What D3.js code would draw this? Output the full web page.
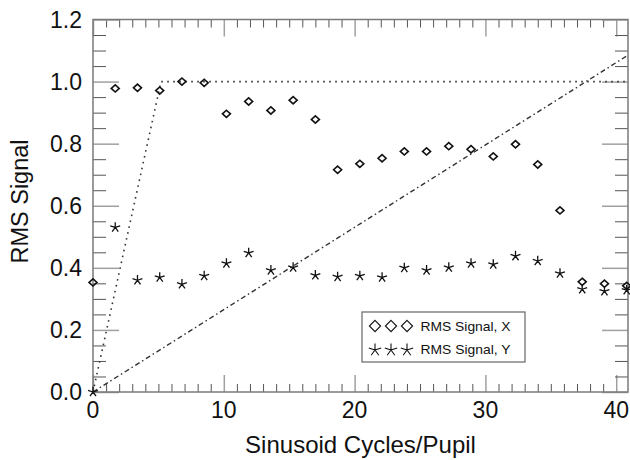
<!DOCTYPE html>
<html>
<head>
<meta charset="utf-8">
<script src="https://cdn.jsdelivr.net/npm/d3@7"></script>
<style>
  html, body { margin: 0; padding: 0; background: #fff; }
  svg { display: block; }
  text { font-family: "Liberation Sans", Arial, Helvetica, sans-serif; fill: #111; }
</style>
</head>
<body>
<svg id="chart" width="630" height="460"></svg>
<script>
// ---- data ----
const cycles = [0, 1.7, 3.4, 5.1, 6.8, 8.5, 10.2, 11.9, 13.6, 15.3, 17.0, 18.7, 20.4,
                22.1, 23.8, 25.5, 27.2, 28.9, 30.6, 32.3, 34.0, 35.7, 37.4, 39.1, 40.8];
const rmsX = [0.353, 0.978, 0.980, 0.971, 1.000, 0.996, 0.896, 0.936, 0.907, 0.940, 0.878,
              0.716, 0.735, 0.753, 0.775, 0.775, 0.792, 0.782, 0.759, 0.798, 0.733, 0.585,
              0.355, 0.349, 0.342];
const rmsY = [0.000, 0.530, 0.360, 0.369, 0.347, 0.374, 0.414, 0.448, 0.392, 0.401, 0.376,
              0.371, 0.374, 0.369, 0.400, 0.392, 0.401, 0.414, 0.411, 0.438, 0.422, 0.382,
              0.331, 0.325, 0.328];
// reference curves
const dottedX = [0, 5.2, 40.9];
const dottedY = [0, 1.0, 1.0];
const dashDotX = [0, 40.9];
const dashDotY = [0, 1.085];

const xTicks = [0, 10, 20, 30, 40];
const yTicks = [0.0, 0.2, 0.4, 0.6, 0.8, 1.0, 1.2];
const seriesNames = ["RMS Signal, X", "RMS Signal, Y"];
const xTitle = "Sinusoid Cycles/Pupil";
const yTitle = "RMS Signal";

// ---- layout ----
const L = 93, R = 628, T = 19.5, B = 392;
const svg = d3.select("#chart");
const x = d3.scaleLinear().domain([0, 40.9]).range([L, R]);
const y = d3.scaleLinear().domain([0, 1.2]).range([B, T]);

const frameColor = "#7a7a7a", minorColor = "#555", majorColor = "#a0a0a0";

// minor ticks
const xMinor = d3.range(0, 41, 1).filter(v => v % 10 !== 0);
const yMinor = d3.range(0, 24, 1).map(i => i * 0.05).filter((v, i) => i % 4 !== 0);

const g = svg.append("g");

function tickAxis(axisGen, transform, color, width) {
  const a = g.append("g").attr("transform", transform).call(axisGen);
  a.select(".domain").remove();
  a.selectAll("line").attr("stroke", color).attr("stroke-width", width);
  a.selectAll("text").remove();
  return a;
}
// bottom & top
tickAxis(d3.axisTop(x).tickValues(xMinor).tickSize(8), `translate(0,${B})`, minorColor, 1);
tickAxis(d3.axisTop(x).tickValues(xTicks).tickSize(17), `translate(0,${B})`, majorColor, 1.5);
tickAxis(d3.axisBottom(x).tickValues(xMinor).tickSize(8), `translate(0,${T})`, minorColor, 1);
tickAxis(d3.axisBottom(x).tickValues(xTicks).tickSize(17), `translate(0,${T})`, majorColor, 1.5);
// left & right
tickAxis(d3.axisRight(y).tickValues(yMinor).tickSize(13), `translate(${L},0)`, minorColor, 1);
tickAxis(d3.axisRight(y).tickValues(yTicks).tickSize(26), `translate(${L},0)`, majorColor, 1.5);
tickAxis(d3.axisLeft(y).tickValues(yMinor).tickSize(13), `translate(${R},0)`, minorColor, 1);
tickAxis(d3.axisLeft(y).tickValues(yTicks).tickSize(26), `translate(${R},0)`, majorColor, 1.5);

// frame
g.append("rect").attr("x", L).attr("y", T).attr("width", R - L).attr("height", B - T)
  .attr("fill", "none").attr("stroke", frameColor).attr("stroke-width", 1.5);

// tick labels
g.selectAll(".xl").data(xTicks).enter().append("text")
  .attr("x", d => x(d)).attr("y", 418).attr("text-anchor", "middle")
  .attr("font-size", 23).text(d => d3.format("d")(d));
g.selectAll(".yl").data(yTicks).enter().append("text")
  .attr("x", 82).attr("y", d => y(d) + 8.3).attr("text-anchor", "end")
  .attr("font-size", 23).text(d => d3.format(".1f")(d));

// axis titles
g.append("text").attr("x", (L + R) / 2).attr("y", 453).attr("text-anchor", "middle")
  .attr("font-size", 24).text(xTitle);
g.append("text").attr("transform", `translate(28,201.5) rotate(-90)`)
  .attr("text-anchor", "middle").attr("font-size", 23.5).text(yTitle);

// clip
svg.append("clipPath").attr("id", "clip").append("rect")
  .attr("x", L).attr("y", T).attr("width", R - L).attr("height", B - T);

const line = d3.line().x(d => x(d[0])).y(d => y(d[1]));
g.append("path").datum(d3.zip(dottedX, dottedY)).attr("d", line)
  .attr("clip-path", "url(#clip)")
  .attr("fill", "none").attr("stroke", "#333").attr("stroke-width", 1.6)
  .attr("stroke-dasharray", "1.6,4.4");
g.append("path").datum(d3.zip(dashDotX, dashDotY)).attr("d", line)
  .attr("clip-path", "url(#clip)")
  .attr("fill", "none").attr("stroke", "#333").attr("stroke-width", 1.4)
  .attr("stroke-dasharray", "5,3,1.5,3");

// markers
function diamondPath(cx, cy, w, h) {
  return `M${cx},${cy - h}L${cx + w},${cy}L${cx},${cy + h}L${cx - w},${cy}Z`;
}
function starPath(cx, cy, r) {
  const angs = [-90, -18, 54, 126, 198];
  return angs.map(a => {
    const t = a * Math.PI / 180;
    return `M${cx},${cy}L${cx + r * Math.cos(t)},${cy + r * Math.sin(t)}`;
  }).join("");
}

g.selectAll(".dx").data(d3.zip(cycles, rmsX)).enter().append("path")
  .attr("d", d => diamondPath(x(d[0]), y(d[1]), 4, 3.6))
  .attr("fill", "none").attr("stroke", "#111").attr("stroke-width", 1.6);
g.selectAll(".sy").data(d3.zip(cycles, rmsY)).enter().append("path")
  .attr("d", d => starPath(x(d[0]), y(d[1]), 5.2))
  .attr("fill", "none").attr("stroke", "#111").attr("stroke-width", 1.3);

// legend
const lg = g.append("g");
lg.append("rect").attr("x", 362).attr("y", 312).attr("width", 163).attr("height", 50)
  .attr("fill", "#fff").attr("stroke", "#666").attr("stroke-width", 1.2);
const symX = [375, 391, 407];
symX.forEach(sx => {
  lg.append("path").attr("d", diamondPath(sx, 326, 5.6, 5.6))
    .attr("fill", "none").attr("stroke", "#111").attr("stroke-width", 1.1);
  lg.append("path").attr("d", starPath(sx, 350, 6.5))
    .attr("fill", "none").attr("stroke", "#111").attr("stroke-width", 1.1);
});
lg.selectAll(".lt").data(seriesNames).enter().append("text")
  .attr("x", 420.5).attr("y", (d, i) => 330.5 + i * 23.5)
  .attr("font-size", 13).attr("textLength", 90).attr("lengthAdjust", "spacingAndGlyphs")
  .text(d => d);
</script>
</body>
</html>
